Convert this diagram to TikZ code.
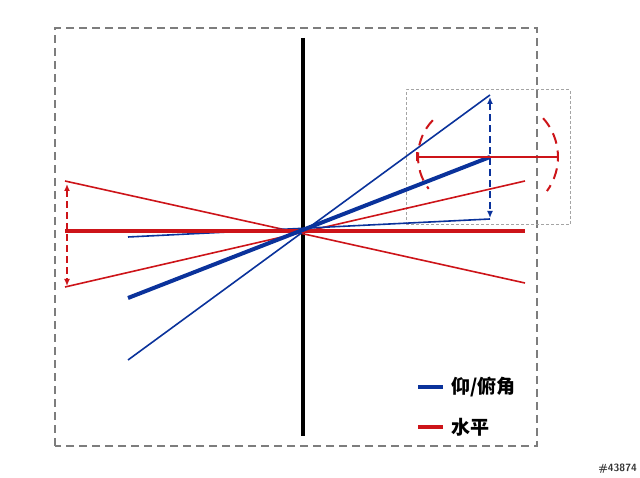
\documentclass[tikz,border=0pt]{standalone}
\usepackage{fontspec}
\newfontfamily\cjk{Noto Sans CJK SC}
\usetikzlibrary{arrows.meta}
\definecolor{dblue}{RGB}{10,50,155}
\definecolor{dred}{RGB}{205,20,25}
\definecolor{dgray}{RGB}{125,125,125}
\tikzset{
  frame/.style={draw=dgray,line width=2pt,dash pattern=on 8pt off 5pt},
  zoomframe/.style={draw=dgray!70,line width=1pt,dash pattern=on 3pt off 2pt},
  thickblue/.style={draw=dblue,line width=4pt},
  thinblue/.style={draw=dblue,line width=1.6pt},
  thickred/.style={draw=dred,line width=4.5pt},
  thinred/.style={draw=dred,line width=1.6pt},
  dasharrow/.style={line width=2.2pt,dash pattern=on 7pt off 4pt,{Latex[length=7pt,width=6pt]}-{Latex[length=7pt,width=6pt]}},
  arcline/.style={draw=dred,line width=2pt,dash pattern=on 11pt off 7pt},
  legtext/.style={font=\cjk\bfseries\fontsize{19pt}{22pt}\selectfont,anchor=west,inner sep=0pt}
}
\begin{document}
\begin{tikzpicture}[x=1pt,y=1pt]
\useasboundingbox (0,0) rectangle (640,478);
\draw[frame] (55,32) rectangle (537,450);
\draw[zoomframe] (406,253) rectangle (570,388);
% axis
\coordinate (vt) at (303,440);
\coordinate (vb) at (303,42);
\draw[black,line width=4pt] (vt) -- (vb);
% red lines
\coordinate (rh1) at (65,247); \coordinate (rh2) at (525,247);
\coordinate (ra1) at (65,297); \coordinate (ra2) at (525,195);
\coordinate (rb1) at (65,191); \coordinate (rb2) at (525,297);
\draw[thinred] (ra1) -- (ra2);
\draw[thinred] (rb1) -- (rb2);
% blue lines
\coordinate (bk1) at (128,180); \coordinate (bk2) at (490,321);
\coordinate (bt1) at (128,118); \coordinate (bt2) at (490,383);
\coordinate (bs1) at (128,241); \coordinate (bs2) at (490,259);
\draw[thinblue] (bt1) -- (bt2);
\draw[thinblue] (bs1) -- (bs2);
\draw[thickred] (rh1) -- (rh2);
\draw[thickblue] (bk1) -- (bk2);
% dashed arrows
\coordinate (da1) at (67,294); \coordinate (da2) at (67,192);
\draw[dasharrow,dred] (da1) -- (da2);
\coordinate (db1) at (490,381); \coordinate (db2) at (490,260);
\draw[dasharrow,dblue] (db1) -- (db2);
% zoom detail
\coordinate (zl) at (416,321); \coordinate (zr) at (558,321);
\draw[thinred,{Bar[width=9pt]}-] (zl) -- (zr);
\draw[arcline] (471,321) ++(136:53pt) arc[start angle=136,end angle=217,radius=53pt];
\draw[arcline] (500,321) ++(42:58pt) arc[start angle=42,end angle=-36,radius=58pt];
% legend
\coordinate (lb1) at (418,91); \coordinate (lb2) at (443,91);
\draw[dblue,line width=4pt] (lb1) -- (lb2);
\node[legtext] (lbt) at (451,91) {仰/俯角};
\coordinate (lr1) at (418,51); \coordinate (lr2) at (443,51);
\draw[dred,line width=4pt] (lr1) -- (lr2);
\node[legtext] (lrt) at (451,51) {水平};
% watermark
\node[font=\sffamily\bfseries\fontsize{10.5pt}{12pt}\selectfont,text=gray!40!black,anchor=east,inner sep=0pt] (wm) at (637,9) {\#43874};
\end{tikzpicture}
\end{document}
